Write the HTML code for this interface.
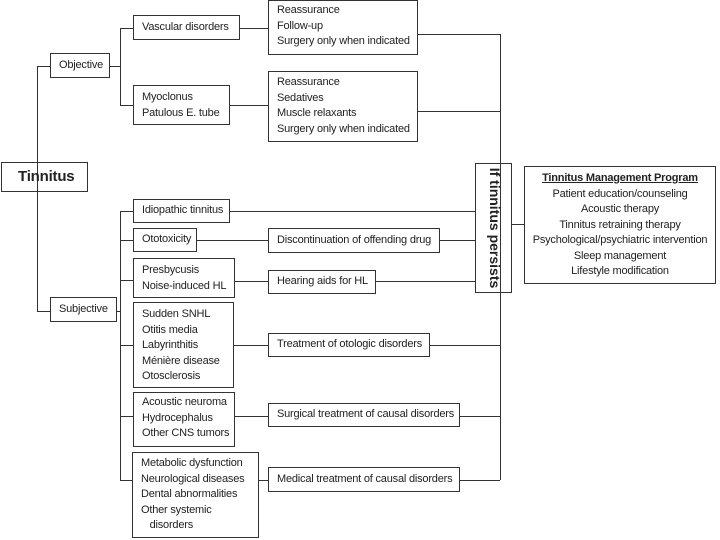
<!DOCTYPE html>
<html><head><style>
body{margin:0;width:720px;height:540px;background:#fff;position:relative;overflow:hidden;font-family:"Liberation Sans",Arial,sans-serif;color:#222}
.b{position:absolute;border:1.5px solid #333;box-sizing:border-box;font-size:11px;line-height:15.5px;padding:2px 0 0 8px;white-space:nowrap;letter-spacing:-0.2px}
.h{position:absolute;height:0;border-top:1.5px solid #333}
.v{position:absolute;width:0;border-left:1.5px solid #333}
</style></head><body>
<!-- connectors -->
<div class="v" style="left:37px;top:66px;height:245px"></div>
<div class="h" style="left:37px;top:66px;width:13px"></div>
<div class="h" style="left:37px;top:311px;width:13px"></div>
<div class="h" style="left:110px;top:66px;width:10px"></div>
<div class="v" style="left:120px;top:28px;height:78px"></div>
<div class="h" style="left:120px;top:28px;width:13px"></div>
<div class="h" style="left:120px;top:105px;width:13px"></div>
<div class="h" style="left:240px;top:28px;width:28px"></div>
<div class="h" style="left:230px;top:105px;width:38px"></div>
<div class="h" style="left:418px;top:34px;width:82px"></div>
<div class="h" style="left:418px;top:111px;width:82px"></div>
<div class="v" style="left:500px;top:34px;height:446px"></div>
<div class="h" style="left:117px;top:311px;width:3px"></div>
<div class="v" style="left:120px;top:211px;height:270px"></div>
<div class="h" style="left:120px;top:211px;width:13px"></div>
<div class="h" style="left:120px;top:240px;width:13px"></div>
<div class="h" style="left:120px;top:280px;width:13px"></div>
<div class="h" style="left:120px;top:345px;width:13px"></div>
<div class="h" style="left:120px;top:416px;width:13px"></div>
<div class="h" style="left:120px;top:480px;width:13px"></div>
<div class="h" style="left:230px;top:211px;width:245px"></div>
<div class="h" style="left:197px;top:240px;width:71px"></div>
<div class="h" style="left:440px;top:240px;width:35px"></div>
<div class="h" style="left:235px;top:281px;width:33px"></div>
<div class="h" style="left:376px;top:281px;width:99px"></div>
<div class="h" style="left:234px;top:345px;width:34px"></div>
<div class="h" style="left:430px;top:345px;width:70px"></div>
<div class="h" style="left:235px;top:416px;width:33px"></div>
<div class="h" style="left:460px;top:416px;width:40px"></div>
<div class="h" style="left:259px;top:480px;width:9px"></div>
<div class="h" style="left:460px;top:480px;width:40px"></div>
<div class="h" style="left:512px;top:224px;width:12px"></div>
<!-- boxes -->
<div class="b" style="left:1px;top:162px;width:87px;height:30px;font-size:15px;font-weight:bold;padding:6px 0 0 16px">Tinnitus</div>
<div class="b" style="left:50px;top:53px;width:60px;height:25px;padding-top:4px">Objective</div>
<div class="b" style="left:50px;top:297px;width:67px;height:25px;padding-top:4px">Subjective</div>
<div class="b" style="left:133px;top:15px;width:107px;height:25px;padding-top:4px">Vascular disorders</div>
<div class="b" style="left:268px;top:0px;width:150px;height:55px">Reassurance<br>Follow-up<br>Surgery only when indicated</div>
<div class="b" style="left:133px;top:85px;width:97px;height:40px;padding-top:4px">Myoclonus<br>Patulous E. tube</div>
<div class="b" style="left:268px;top:71px;width:150px;height:71px;padding-top:3px">Reassurance<br>Sedatives<br>Muscle relaxants<br>Surgery only when indicated</div>
<div class="b" style="left:133px;top:199px;width:97px;height:24px;padding-top:3px">Idiopathic tinnitus</div>
<div class="b" style="left:133px;top:228px;width:64px;height:24px;padding-top:3px">Ototoxicity</div>
<div class="b" style="left:268px;top:228px;width:172px;height:25px;padding-top:4px">Discontinuation of offending drug</div>
<div class="b" style="left:133px;top:258px;width:102px;height:40px;padding-top:4px">Presbycusis<br>Noise-induced HL</div>
<div class="b" style="left:268px;top:270px;width:108px;height:24px;padding-top:3px">Hearing aids for HL</div>
<div class="b" style="left:133px;top:302px;width:101px;height:86px;padding-top:4px">Sudden SNHL<br>Otitis media<br>Labyrinthitis<br>Ménière disease<br>Otosclerosis</div>
<div class="b" style="left:268px;top:333px;width:162px;height:24px;padding-top:3px">Treatment of otologic disorders</div>
<div class="b" style="left:133px;top:392px;width:102px;height:55px;padding-top:2px">Acoustic neuroma<br>Hydrocephalus<br>Other CNS tumors</div>
<div class="b" style="left:268px;top:403px;width:192px;height:24px;padding-top:3px">Surgical treatment of causal disorders</div>
<div class="b" style="left:132px;top:452px;width:127px;height:86px;padding-top:3px">Metabolic dysfunction<br>Neurological diseases<br>Dental abnormalities<br>Other systemic<br>&nbsp;&nbsp;&nbsp;disorders</div>
<div class="b" style="left:268px;top:467px;width:192px;height:25px;padding-top:4px">Medical treatment of causal disorders</div>
<div class="b" style="left:475px;top:163px;width:37px;height:130px;padding:0"><div style="position:absolute;left:50%;top:50%;transform:translate(-50%,-50%) rotate(90deg);font-size:14px;font-weight:bold;letter-spacing:0">If tinnitus persists</div></div>
<div class="b" style="left:524px;top:166px;width:192px;height:118px;text-align:center;padding:4px 0 0 0;line-height:15.5px"><b style="text-decoration:underline">Tinnitus Management Program</b><br>Patient education/counseling<br>Acoustic therapy<br>Tinnitus retraining therapy<br>Psychological/psychiatric intervention<br>Sleep management<br>Lifestyle modification</div>
</body></html>
